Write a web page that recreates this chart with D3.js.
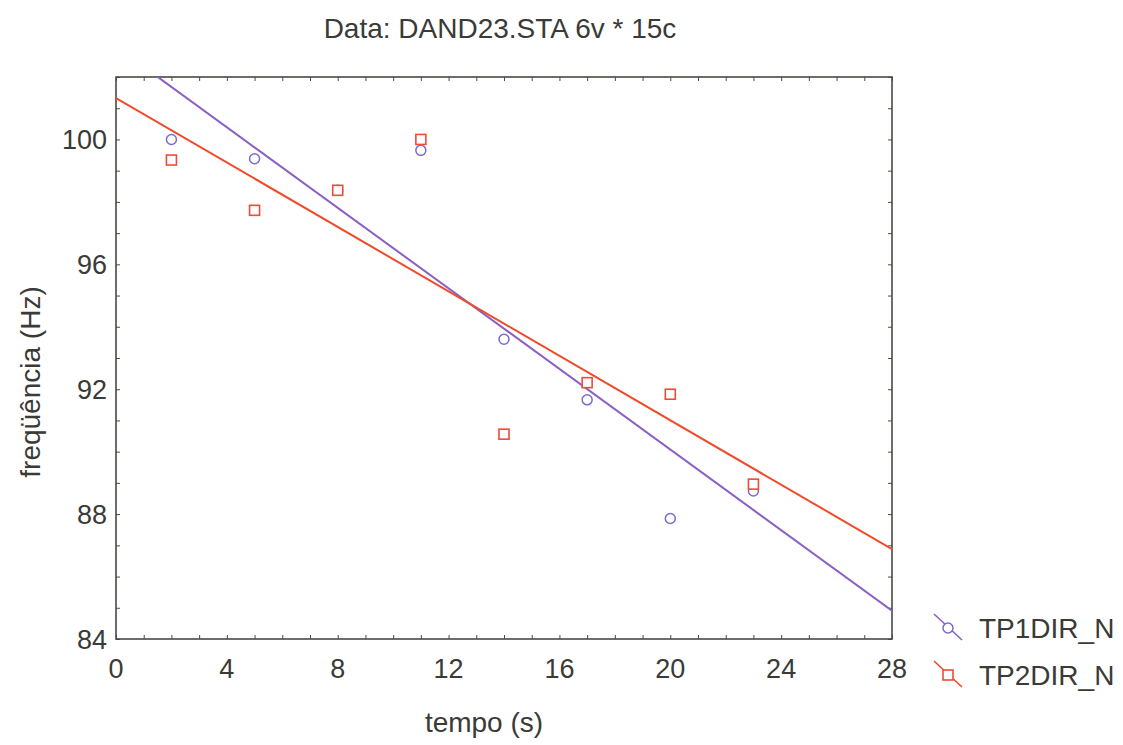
<!DOCTYPE html>
<html>
<head>
<meta charset="utf-8">
<script src="https://cdn.jsdelivr.net/npm/d3@7"></script>
<style>
  body { margin: 0; background: #fff; }
  text { font-family: "Liberation Sans", Arial, sans-serif; fill: #3a3a36; }
</style>
</head>
<body>
<script>
var width = 1123, height = 745;
var left = 116, right = 892, top_y = 77, bottom = 639;

// data
var tempo = [2, 5, 8, 11, 14, 17, 20, 23];
var tp1 = [100.0, 99.38, 98.37, 99.65, 93.6, 91.66, 87.86, 88.74];   // point at 8 sits behind the square
var tp2 = [99.34, 97.73, 98.37, 100.0, 90.56, 92.21, 91.84, 88.96];
var seriesNames = ['TP1DIR_N', 'TP2DIR_N'];
var xTicks = [0, 4, 8, 12, 16, 20, 24, 28];
var yTicks = [84, 88, 92, 96, 100];

var col1 = '#7a6ad0', line1 = '#8a5ec4';
var col2 = '#f04a3a', line2 = '#f04a2a';
var axisCol = '#4a4a44';

var xScale = d3.scaleLinear().domain([0, 28]).range([left, right]);
var yScale = d3.scaleLinear().domain([84, 102]).range([bottom, top_y]);

// least squares fit
function fit(xs, ys) {
	var mx = d3.mean(xs), my = d3.mean(ys)
	var sxy = d3.sum(xs, (x, i) => (x - mx) * (ys[i] - my))
	var sxx = d3.sum(xs, x => (x - mx) * (x - mx))
	var b = sxy / sxx
	return {a: my - b * mx, b: b}
}

var svg = d3.select('body').append('svg').attr('width', width).attr('height', height);

svg.append('defs').append('clipPath').attr('id', 'plotclip')
	.append('rect').attr('x', left).attr('y', top_y)
	.attr('width', right - left).attr('height', bottom - top_y);

// Title
svg.append('text').attr('x', 500).attr('y', 38)
	.style('text-anchor', 'middle').style('font-size', '28px')
	.text('Data: DAND23.STA 6v * 15c');

// Axes (ticks inside, on all four sides)
var minorX = d3.range(0, 29, 1), minorY = d3.range(84, 103, 1);
svg.append('g').attr('transform', 'translate(0,' + bottom + ')')
	.call(d3.axisTop(xScale).tickValues(minorX).tickSize(4).tickFormat(''));
svg.append('g').attr('transform', 'translate(0,' + top_y + ')')
	.call(d3.axisBottom(xScale).tickValues(minorX).tickSize(4).tickFormat(''));
svg.append('g').attr('transform', 'translate(' + left + ',0)')
	.call(d3.axisRight(yScale).tickValues(minorY).tickSize(4).tickFormat(''));
svg.append('g').attr('transform', 'translate(' + right + ',0)')
	.call(d3.axisLeft(yScale).tickValues(minorY).tickSize(4).tickFormat(''));
svg.selectAll('.domain').remove();
svg.selectAll('.tick line').attr('stroke', axisCol).attr('stroke-width', 1);

svg.append('rect').attr('x', left).attr('y', top_y)
	.attr('width', right - left).attr('height', bottom - top_y)
	.attr('fill', 'none').attr('stroke', axisCol).attr('stroke-width', 1.6);

// Tick labels
svg.append('g').selectAll('text').data(xTicks).enter().append('text')
	.attr('x', d => xScale(d)).attr('y', bottom + 39)
	.style('text-anchor', 'middle').style('font-size', '27px')
	.text(d => d);
svg.append('g').selectAll('text').data(yTicks).enter().append('text')
	.attr('x', left - 9).attr('y', d => yScale(d) + 10)
	.style('text-anchor', 'end').style('font-size', '27px')
	.text(d => d);

// Axis titles
svg.append('text').attr('x', 484).attr('y', 732)
	.style('text-anchor', 'middle').style('font-size', '28px')
	.text('tempo (s)');
svg.append('text').attr('transform', 'rotate(-90)')
	.attr('x', -382).attr('y', 40)
	.style('text-anchor', 'middle').style('font-size', '28px')
	.text('freqüência (Hz)');

// Fit lines
var plot = svg.append('g').attr('clip-path', 'url(#plotclip)');
[[tp1, line1], [tp2, line2]].forEach(function(s) {
	var f = fit(tempo, s[0])
	plot.append('line')
		.attr('x1', xScale(0)).attr('y1', yScale(f.a))
		.attr('x2', xScale(28)).attr('y2', yScale(f.a + f.b * 28))
		.attr('stroke', s[1]).attr('stroke-width', 2);
});

// Points
plot.append('g').selectAll('circle').data(tp1).enter().append('circle')
	.attr('cx', (d, i) => xScale(tempo[i])).attr('cy', d => yScale(d))
	.attr('r', 5).attr('fill', '#fff')
	.attr('stroke', col1).attr('stroke-width', 1.5);
plot.append('g').selectAll('rect').data(tp2).enter().append('rect')
	.attr('x', (d, i) => xScale(tempo[i]) - 5).attr('y', d => yScale(d) - 5)
	.attr('width', 10).attr('height', 10).attr('fill', '#fff')
	.attr('stroke', col2).attr('stroke-width', 1.6);

// Legend
var legend = svg.append('g');
var legY = [628, 675];
legY.forEach(function(ly, i) {
	var c = i == 0 ? line1 : line2
	legend.append('line').attr('x1', 934).attr('y1', ly - 14)
		.attr('x2', 962).attr('y2', ly + 12)
		.attr('stroke', c).attr('stroke-width', 1.6);
	if (i == 0) {
		legend.append('circle').attr('cx', 948).attr('cy', ly)
			.attr('r', 5).attr('fill', '#fff').attr('stroke', col1).attr('stroke-width', 1.5);
	} else {
		legend.append('rect').attr('x', 943).attr('y', ly - 5)
			.attr('width', 10).attr('height', 10).attr('fill', '#fff')
			.attr('stroke', col2).attr('stroke-width', 1.6);
	}
	legend.append('text').attr('x', 979).attr('y', ly + 10)
		.style('font-size', '28px').text(seriesNames[i]);
});
</script>
</body>
</html>
